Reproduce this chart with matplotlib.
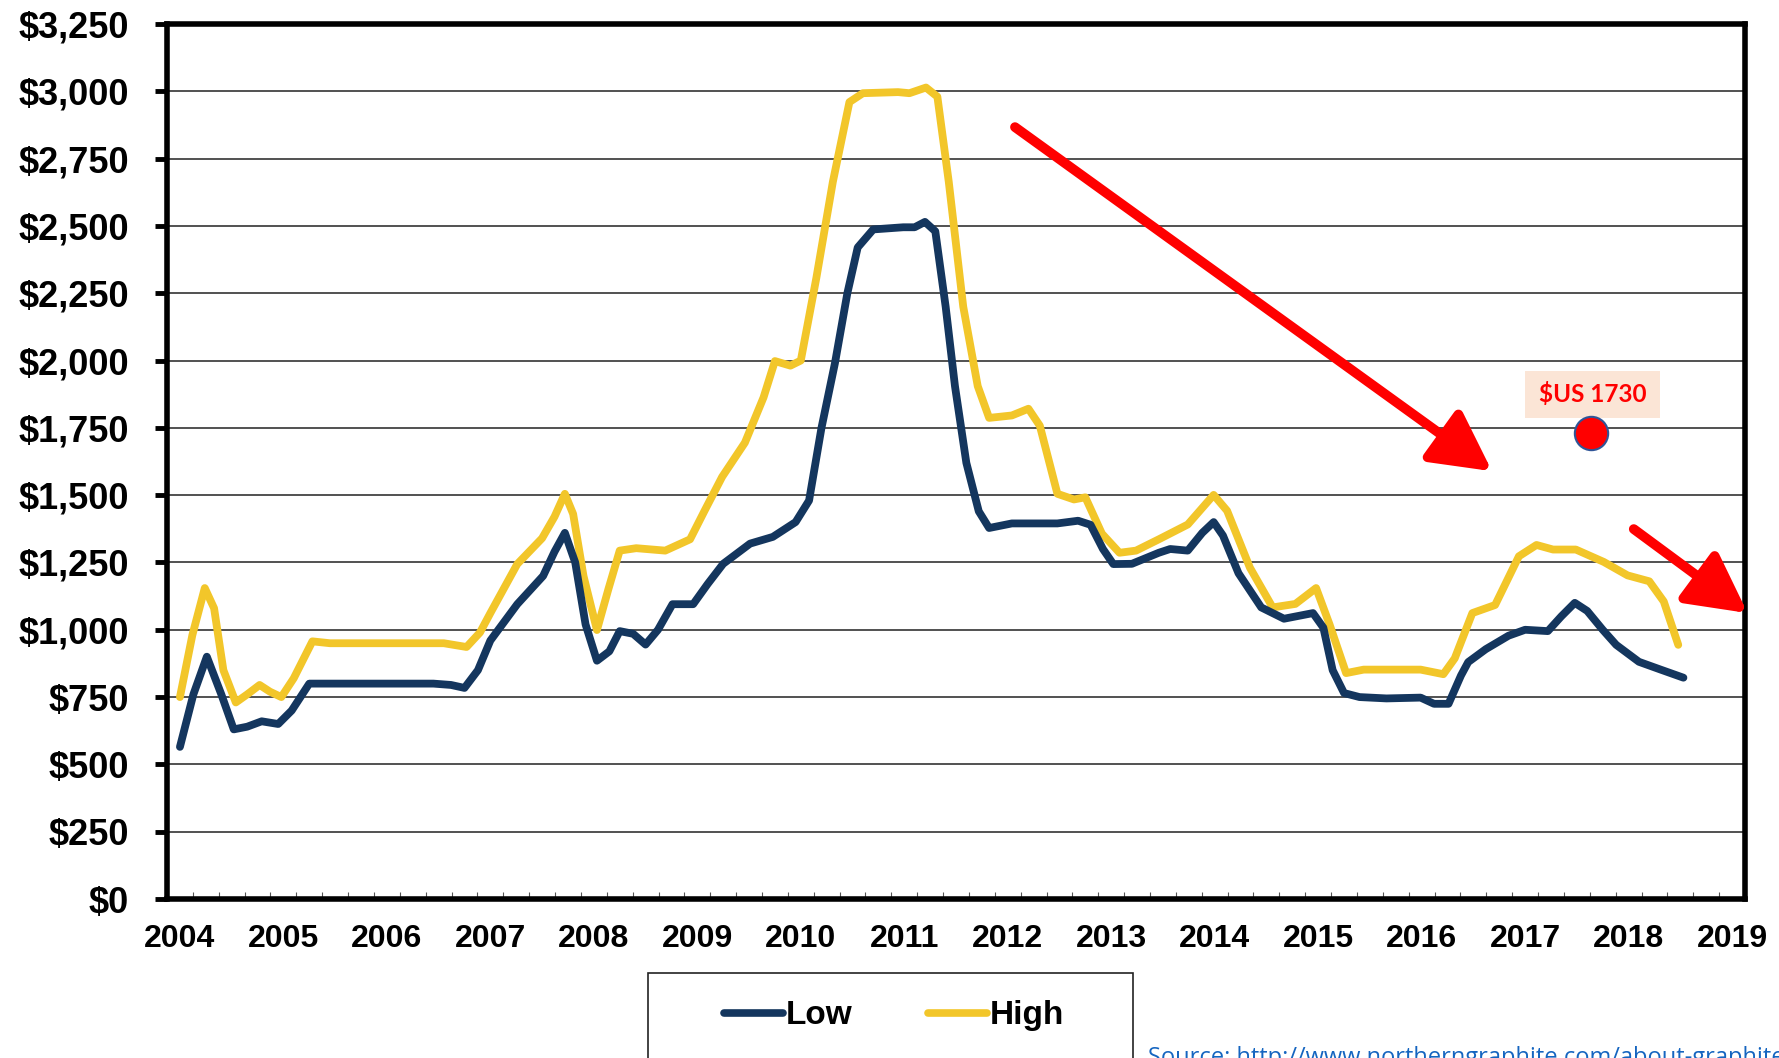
import matplotlib
matplotlib.use('Agg')
import matplotlib.pyplot as plt
from matplotlib.lines import Line2D
from matplotlib.patches import Rectangle
from matplotlib.ticker import FixedLocator

# Graphite price, US$/t
low_years = [2004.00, 2004.13, 2004.26, 2004.40, 2004.52, 2004.65, 2004.79, 2004.95,
             2005.08, 2005.25, 2005.45, 2005.75, 2006.10, 2006.45, 2006.62, 2006.75,
             2006.88, 2007.00, 2007.26, 2007.51, 2007.62, 2007.72, 2007.82, 2007.92,
             2008.03, 2008.15, 2008.25, 2008.38, 2008.50, 2008.62, 2008.76, 2008.96,
             2009.10, 2009.25, 2009.51, 2009.73, 2009.95, 2010.08, 2010.20, 2010.33,
             2010.45, 2010.55, 2010.70, 2010.99, 2011.10, 2011.20, 2011.30, 2011.40,
             2011.49, 2011.60, 2011.72, 2011.82, 2012.04, 2012.48, 2012.68, 2012.80,
             2012.92, 2013.02, 2013.20, 2013.46, 2013.57, 2013.74, 2013.88, 2013.99,
             2014.08, 2014.23, 2014.45, 2014.67, 2014.95, 2015.05, 2015.14, 2015.25,
             2015.40, 2015.66, 2015.99, 2016.12, 2016.26, 2016.38, 2016.45, 2016.62,
             2016.84, 2017.00, 2017.22, 2017.35, 2017.48, 2017.60, 2017.75, 2017.88,
             2018.10, 2018.31, 2018.53]
low_values = [565, 760, 900, 760, 630, 640, 660, 650,
              700, 800, 800, 800, 800, 800, 795, 784,
              850, 960, 1095, 1200, 1290, 1360, 1250, 1020,
              885, 920, 995, 985, 945, 1000, 1095, 1095,
              1170, 1245, 1320, 1345, 1400, 1480, 1750, 1990,
              2250, 2420, 2487, 2495, 2495, 2515, 2480, 2200,
              1905, 1620, 1440, 1378, 1395, 1395, 1405, 1390,
              1300, 1244, 1245, 1286, 1300, 1294, 1360, 1400,
              1350, 1210, 1083, 1041, 1062, 1008, 850, 765,
              750, 745, 748, 725, 725, 830, 880, 928,
              978, 1000, 995, 1050, 1100, 1070, 1000, 944,
              881, 852, 822]

high_years = [2004.00, 2004.12, 2004.24, 2004.33, 2004.42, 2004.54, 2004.65, 2004.77,
              2004.87, 2004.98, 2005.10, 2005.28, 2005.45, 2005.80, 2006.20, 2006.55,
              2006.77, 2006.90, 2007.00, 2007.26, 2007.50, 2007.62, 2007.72, 2007.80,
              2007.90, 2008.03, 2008.14, 2008.25, 2008.41, 2008.69, 2008.93, 2009.07,
              2009.24, 2009.46, 2009.64, 2009.75, 2009.90, 2010.00, 2010.15, 2010.31,
              2010.47, 2010.60, 2010.94, 2011.05, 2011.21, 2011.32, 2011.43, 2011.57,
              2011.71, 2011.82, 2012.04, 2012.20, 2012.31, 2012.48, 2012.64, 2012.75,
              2012.91, 2013.08, 2013.24, 2013.46, 2013.74, 2013.99, 2014.12, 2014.34,
              2014.56, 2014.78, 2014.98, 2015.11, 2015.27, 2015.44, 2015.99, 2016.21,
              2016.32, 2016.49, 2016.71, 2016.94, 2017.11, 2017.27, 2017.49, 2017.76,
              2017.99, 2018.20, 2018.34, 2018.48]
high_values = [750, 980, 1155, 1080, 850, 730, 760, 795,
               770, 750, 820, 957, 950, 950, 950, 950,
               936, 990, 1062, 1244, 1340, 1420, 1505, 1430,
               1200, 999, 1150, 1294, 1303, 1294, 1336, 1442,
               1568, 1695, 1863, 1998, 1981, 2000, 2306, 2664,
               2960, 2993, 2997, 2993, 3014, 2980, 2664, 2200,
               1905, 1787, 1796, 1821, 1758, 1505, 1484, 1492,
               1357, 1286, 1294, 1336, 1391, 1501, 1442, 1231,
               1083, 1096, 1155, 1020, 839, 852, 852, 835,
               894, 1062, 1092, 1273, 1315, 1298, 1298, 1252,
               1202, 1180, 1105, 944]

year_labels = [str(y) for y in range(2004, 2020)]
y_ticks = list(range(0, 3251, 250))

# highlighted price point and its label
point_year = 2017.64
point_value = 1730
point_label = '$US 1730'

# trend arrows (start, tip) in data units
arrows = [((2012.07, 2867), (2016.68, 1589)),
          ((2018.05, 1374), (2019.15, 1062))]

LOW_COLOR = '#14365E'
HIGH_COLOR = '#F2C62A'
TICK_FONT = 'Liberation Sans'

fig = plt.figure(figsize=(17.79, 10.58), dpi=100)
ax = fig.add_axes([167 / 1779, 1 - 899 / 1058, (1745 - 167) / 1779, (899 - 24) / 1058])

ax.plot(high_years, high_values, color=HIGH_COLOR, lw=5.6, solid_joinstyle='round',
        solid_capstyle='round', zorder=3)
ax.plot(low_years, low_values, color=LOW_COLOR, lw=5.6, solid_joinstyle='round',
        solid_capstyle='round', zorder=4)

ax.set_xlim(2003.875, 2019.125)
ax.set_ylim(0, 3250)

# axes styling
for side in ['left', 'right', 'top', 'bottom']:
    ax.spines[side].set_linewidth(4)
    ax.spines[side].set_color('black')

ax.set_yticks(y_ticks)
ax.set_yticklabels(['${:,}'.format(v) for v in y_ticks], fontfamily=TICK_FONT,
                   fontweight='bold', fontsize=26)
ax.tick_params(axis='y', direction='out', length=8.5, width=3.5, pad=19)
ax.grid(axis='y', color='#222222', lw=1.1, zorder=1)

ax.set_xticks(range(2004, 2020))
ax.set_xticklabels(year_labels, fontfamily=TICK_FONT, fontweight='bold', fontsize=23)
ax.tick_params(axis='x', which='major', length=0, pad=18)
ax.xaxis.set_minor_locator(FixedLocator([2003.875 + 0.25 * i for i in range(62)]))
ax.tick_params(axis='x', which='minor', direction='in', length=5, width=0.8, color='#555555')

# arrows
for start, tip in arrows:
    ax.annotate('', xy=tip, xytext=start, annotation_clip=False,
                arrowprops=dict(arrowstyle='-|>,head_length=36,head_width=19',
                                mutation_scale=1, color='red', lw=7,
                                shrinkA=0, shrinkB=0), zorder=6)

# highlighted point with label box
ax.plot([point_year], [point_value], 'o', ms=24, mfc='red', mec='#2F5597', mew=1.5,
        zorder=7, clip_on=False)
ax.add_patch(Rectangle((2017.0, 1788), 1.3, 172, facecolor='#FBE5D6', edgecolor='none',
                       zorder=5))
ax.text(2017.65, 1874, point_label, color='red', fontsize=17.5, fontweight='bold',
        fontfamily='Lato', ha='center', va='center', zorder=6)

# legend, boxed and cut off by the bottom edge like the original
fig.add_artist(Rectangle((648 / 1779, -0.05), (1133 - 648) / 1779, 0.05 + 85 / 1058,
                         transform=fig.transFigure, fill=False, edgecolor='#222222', lw=1.2))
handles = [Line2D([], [], color=LOW_COLOR, lw=5.5, solid_capstyle='round'),
           Line2D([], [], color=HIGH_COLOR, lw=5.5, solid_capstyle='round')]
fig.legend(handles, ['Low', 'High'], loc='center', bbox_to_anchor=(0.5025, 0.040),
           ncol=2, frameon=False, handlelength=1.77, handletextpad=0.1,
           columnspacing=2.25, prop={'family': TICK_FONT, 'weight': 'bold', 'size': 24})

fig.text(1148 / 1779, -0.006, 'Source: http://www.northerngraphite.com/about-graphite',
         color='#1565C0', fontsize=17, fontfamily='Open Sans', va='baseline')

fig.savefig('out.png', dpi=100)
